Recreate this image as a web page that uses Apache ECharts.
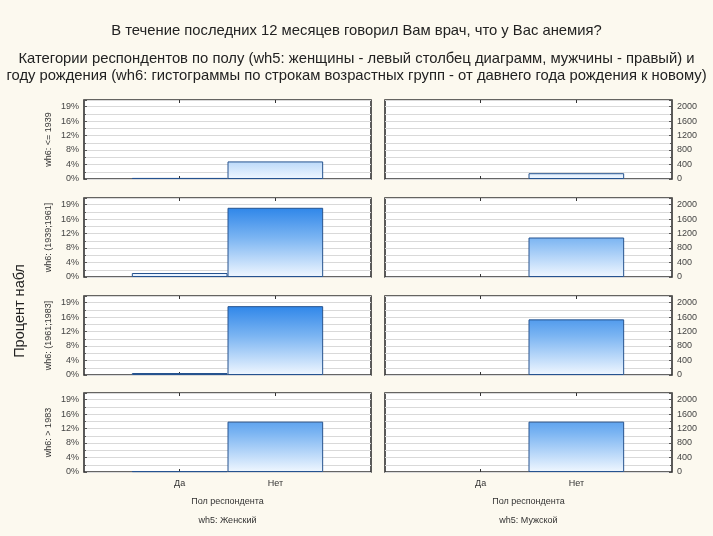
<!DOCTYPE html>
<html>
<head>
<meta charset="utf-8">
<script src="https://cdn.jsdelivr.net/npm/echarts@6/dist/echarts.min.js"></script>
<style>
html,body{margin:0;padding:0;background:#fcf9ef;}
#chart{width:713px;height:536px;}
</style>
</head>
<body>
<div id="chart"></div>
<script>
// ---- data ----
var categories = ['Да', 'Нет'];
var ageGroups = ['wh6: <= 1939', 'wh6: (1939;1961]', 'wh6: (1961;1983]', 'wh6: > 1983'];
var sexGroups = ['wh5: Женский', 'wh5: Мужской'];
var femaleDa  = [30, 110, 55, 25];
var femaleNet = [485, 1910, 1900, 1390];
var maleDa    = [0, 0, 0, 0];
var maleNet   = [160, 1090, 1535, 1390];
var countTicks = [0, 400, 800, 1200, 1600, 2000];
var pctTicks = ['0%', '4%', '8%', '12%', '16%', '19%'];
var titleText = 'В течение последних 12 месяцев говорил Вам врач, что у Вас анемия?';
var subLine1 = 'Категории респондентов по полу (wh5: женщины - левый столбец диаграмм, мужчины - правый) и';
var subLine2 = 'году рождения (wh6: гистограммы по строкам возрастных групп - от давнего года рождения к новому)';
var yName = 'Процент набл';
var xName = 'Пол респондента';

// ---- layout ----
var colLeft = [84, 385];
var colWidth = 287;
var rowTop = [100, 198, 296, 393];
var rowHeight = 79;
var yMax = 2180;
var FONT = 'Liberation Sans, Arial, sans-serif';

var axisCats = [''].concat(categories).concat(['']);
var grids = [], xAxes = [], yAxes = [], series = [];
var gi = 0;
function tickInterval(idx) { return idx === 1 || idx === 2; }
for (var r = 0; r < 4; r++) {
  for (var c = 0; c < 2; c++) {
    grids.push({
      left: colLeft[c], top: rowTop[r], width: colWidth, height: rowHeight,
      show: true, backgroundColor: '#ffffff', borderColor: '#333333', borderWidth: 1.6
    });
    var last = (r === 3);
    xAxes.push({
      type: 'category', gridIndex: gi, data: axisCats, boundaryGap: false, position: 'bottom',
      axisLine: { show: false },
      axisTick: { show: true, inside: true, length: 3, interval: tickInterval, lineStyle: { color: '#333' } },
      axisLabel: { show: last, interval: 0, color: '#333', fontSize: 9, fontFamily: FONT, margin: 7 },
      name: last ? xName : '', nameLocation: 'middle', nameGap: 25,
      nameTextStyle: { color: '#333', fontSize: 9, fontFamily: FONT }
    });
    xAxes.push({
      type: 'category', gridIndex: gi, data: axisCats, boundaryGap: false, position: 'top',
      axisLine: { show: false },
      axisTick: { show: true, inside: true, length: 3, interval: tickInterval, lineStyle: { color: '#333' } },
      axisLabel: { show: false }
    });
    var isLeft = (c === 0);
    yAxes.push({
      type: 'value', gridIndex: gi, min: 0, max: yMax, interval: 400,
      position: isLeft ? 'left' : 'right',
      axisLine: { show: false },
      axisTick: { show: true, inside: true, length: 3, lineStyle: { color: '#555' } },
      minorTick: { show: true, splitNumber: 2, length: 2, lineStyle: { color: '#555' } },
      splitLine: { show: true, lineStyle: { color: '#d9d9d9', width: 1 } },
      minorSplitLine: { show: true, lineStyle: { color: '#d9d9d9', width: 1 } },
      axisLabel: {
        show: true, color: '#444', fontSize: 9, fontFamily: FONT, margin: 5,
        formatter: (function (left) {
          return function (v) {
            var i = countTicks.indexOf(v);
            if (i < 0) return '';
            return left ? pctTicks[i] : String(countTicks[i]);
          };
        })(isLeft)
      },
      name: isLeft ? ageGroups[r] : '', nameLocation: 'middle', nameRotate: 90, nameGap: 31,
      nameTextStyle: { color: '#333', fontSize: 9, fontFamily: FONT }
    });
    var da = isLeft ? femaleDa[r] : maleDa[r];
    var net = isLeft ? femaleNet[r] : maleNet[r];
    series.push({
      type: 'bar', xAxisIndex: gi * 2, yAxisIndex: gi,
      data: ['-', da > 0 ? da : '-', net > 0 ? net : '-', '-'],
      barWidth: '100%', barGap: '-100%',
      itemStyle: {
        color: {
          type: 'linear', global: true,
          x: 0, y: rowTop[r], x2: 0, y2: rowTop[r] + rowHeight,
          colorStops: [{ offset: 0, color: '#1677e6' }, { offset: 0.5, color: '#7ab4f2' }, { offset: 1, color: '#f0f7ff' }]
        },
        borderColor: '#26538f', borderWidth: 1
      },
      silent: true, animation: false
    });
    gi++;
  }
}

var chart = echarts.init(document.getElementById('chart'), null, { renderer: 'canvas' });
chart.setOption({
  backgroundColor: '#fcf9ef',
  animation: false,
  grid: grids, xAxis: xAxes, yAxis: yAxes, series: series,
  graphic: [
    { type: 'text', left: 'center', top: 23, style: { text: titleText, fontSize: 14.8, fontFamily: FONT, fill: '#222' } },
    { type: 'text', left: 'center', top: 51, style: { text: subLine1, fontSize: 14.8, fontFamily: FONT, fill: '#222' } },
    { type: 'text', left: 'center', top: 68, style: { text: subLine2, fontSize: 14.8, fontFamily: FONT, fill: '#222' } },
    { type: 'text', x: 20, y: 311, rotation: Math.PI / 2, style: { text: yName, fontSize: 14.5, fontFamily: FONT, fill: '#222', align: 'center', verticalAlign: 'middle' } },
    { type: 'text', x: colLeft[0] + colWidth / 2, y: 521, style: { text: sexGroups[0], fontSize: 9, fontFamily: FONT, fill: '#333', align: 'center', verticalAlign: 'middle' } },
    { type: 'text', x: colLeft[1] + colWidth / 2, y: 521, style: { text: sexGroups[1], fontSize: 9, fontFamily: FONT, fill: '#333', align: 'center', verticalAlign: 'middle' } }
  ]
});
</script>
</body>
</html>
